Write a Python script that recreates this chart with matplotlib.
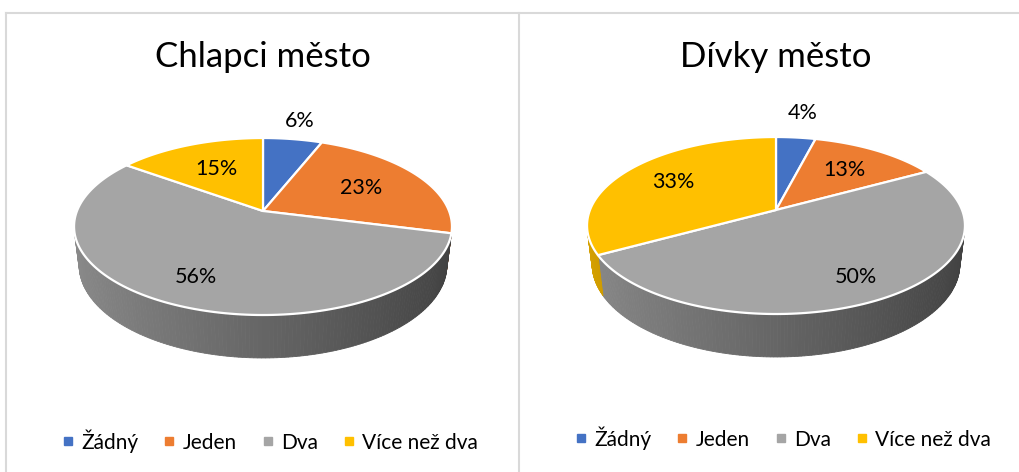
import numpy as np
import matplotlib
matplotlib.use("Agg")
import matplotlib.pyplot as plt
from matplotlib.patches import Polygon
from matplotlib.lines import Line2D

plt.rcParams['font.family'] = ['Lato', 'DejaVu Sans']

categories = ["Žádný", "Jeden", "Dva", "Více než dva"]
boys_values = [6, 23, 56, 15]
girls_values = [4, 13, 50, 33]
titles = ["Chlapci město", "Dívky město"]
colors = ["#4472C4", "#ED7D31", "#A5A5A5", "#FFC000"]

W, H = 1019, 472

# 3d pie projection (pixels)
ALPHA = np.radians(30)
DIST = 4.94
FX, FY = 919.0, 847.5
THICK = 0.265
VIS = 1.0 / (DIST * np.cos(ALPHA))


def project(cx, cy, u, v, h=0.0):
    d = DIST - v * np.cos(ALPHA) - h * np.sin(ALPHA)
    y_up = -v * np.sin(ALPHA) + h * np.cos(ALPHA)
    return cx + FX * u / d, cy - FY * y_up / d


def shade(color, u):
    rgb = np.array(matplotlib.colors.to_rgb(color))
    f = 0.615 - 0.225 * u
    return tuple(np.clip(rgb * f, 0, 1))


def draw_pie(ax, cx, cy, values, label_r):
    total = float(sum(values))
    bounds = np.concatenate([[0], np.cumsum(values)]) / total * 2 * np.pi

    # side walls first
    for i, c in enumerate(colors):
        ths = np.linspace(bounds[i], bounds[i + 1], 200)
        for t1, t2 in zip(ths[:-1], ths[1:]):
            tm = (t1 + t2) / 2
            if -np.cos(tm) <= VIS:
                continue
            pts = [project(cx, cy, np.sin(t1), -np.cos(t1)),
                   project(cx, cy, np.sin(t2), -np.cos(t2)),
                   project(cx, cy, np.sin(t2), -np.cos(t2), -THICK),
                   project(cx, cy, np.sin(t1), -np.cos(t1), -THICK)]
            col = shade(c, np.sin(tm))
            ax.add_patch(Polygon(pts, closed=True, facecolor=col, edgecolor=col,
                                 lw=0.6, zorder=1))

    # top faces
    for i, c in enumerate(colors):
        ths = np.linspace(bounds[i], bounds[i + 1], 150)
        pts = [(cx, cy)] + [project(cx, cy, np.sin(t), -np.cos(t)) for t in ths]
        ax.add_patch(Polygon(pts, closed=True, facecolor=c, edgecolor="white",
                             lw=1.6, joinstyle="round", zorder=2))

    # data labels
    for i, val in enumerate(values):
        tm = (bounds[i] + bounds[i + 1]) / 2
        r = label_r[i]
        x, y = project(cx, cy, r * np.sin(tm), -r * np.cos(tm))
        ax.text(x, y, f"{val}%", ha="center", va="center", fontsize=15.5,
                color="black", zorder=5)


fig = plt.figure(figsize=(W / 100, H / 100), dpi=100)

panels = [
    (0, 519, 263, 211, boys_values, [1.3, 0.62, 0.75, 0.6], 441),
    (519, 1019, 776, 210, girls_values, [1.42, 0.65, 0.78, 0.68], 438),
]

for k, (x0, x1, cx, cy, vals, lr, ly) in enumerate(panels):
    ax = fig.add_axes([x0 / W, 0, (x1 - x0) / W, 1])
    ax.set_xlim(x0, x1)
    ax.set_ylim(H, 0)
    ax.axis("off")

    draw_pie(ax, cx, cy, vals, lr)
    ax.text(cx, 57, titles[k], ha="center", va="center", fontsize=25,
            color="black")

    handles = [Line2D([], [], marker="s", linestyle="", color=c, markersize=5.5)
               for c in colors]
    ax.legend(handles, categories, loc="center", bbox_to_anchor=(cx + 7, ly),
              bbox_transform=ax.transData, ncol=4, frameon=False, fontsize=15,
              handlelength=0.6, handletextpad=0.33, columnspacing=1.2)

# chart borders
bax = fig.add_axes([0, 0, 1, 1])
bax.set_xlim(0, W)
bax.set_ylim(H, 0)
bax.axis("off")
bax.patch.set_alpha(0)
border = "#d9d9d9"
bax.plot([6, W], [12.5, 12.5], color=border, lw=1.5)
bax.plot([6, 6], [12.5, H], color=border, lw=1.5)
bax.plot([519, 519], [12.5, H], color=border, lw=1.5)

fig.savefig("out.png", dpi=100)
